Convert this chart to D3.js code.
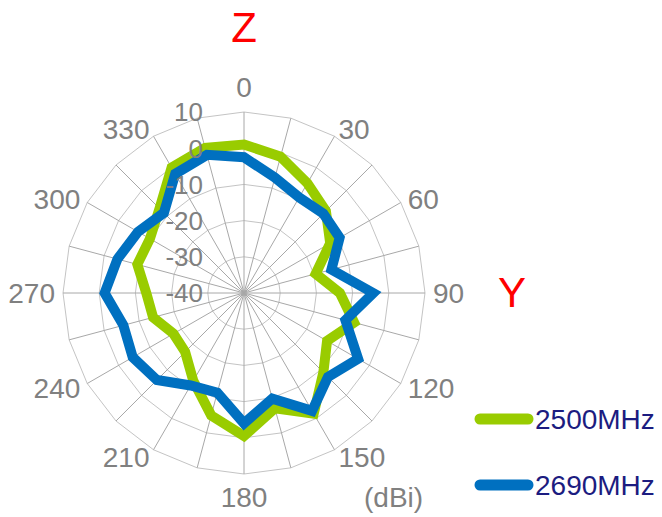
<!DOCTYPE html>
<html>
<head>
<meta charset="utf-8">
<script src="https://cdn.jsdelivr.net/npm/d3@7"></script>
<style>
html,body{margin:0;padding:0;background:#fff;}
svg{display:block;font-family:"Liberation Sans",Arial,sans-serif;}
</style>
</head>
<body>
<svg id="chart" width="662" height="517"></svg>
<script>
// Data
const angles = [0,15,30,45,60,75,90,105,120,135,150,165,180,195,210,225,240,255,270,285,300,315,330,345];
const angleLabels = ["0","30","60","90","120","150","180","210","240","270","300","330"];
const radialTicks = [10,0,-10,-20,-30,-40];
const seriesNames = ["2500MHz","2690MHz"];
const values2500 = [1,-1,-5,-8,-12.5,-19.5,-13.5,-8.5,-13.5,-9,-1.5,-7,-0.5,-5,-12,-17,-17.5,-14,-13,-9.5,-10,-7,0,1.5];
const values2690 = [-2.5,-7,-9.5,-9,-9.5,-15,-4.3,-11,-3.6,-7.2,-2.4,-9.8,-4,-11.5,-10.5,-6,-4.5,-5.5,-1.5,-3.8,-6.2,-8.7,-2,-0.5];
const colors = ["#99cc00","#0070c0"];

const svg = d3.select("#chart");
const cx = 244, cy = 293, R = 181;
const r = d3.scaleLinear().domain([-40,10]).range([0,R]);
const a = d3.scaleLinear().domain([0,360]).range([0,2*Math.PI]);
const g = svg.append("g").attr("transform",`translate(${cx},${cy})`);

// rings (polygonal)
const ringLine = d3.lineRadial().angle(d=>a(d[0])).radius(d=>r(d[1])).curve(d3.curveLinearClosed);
radialTicks.filter(t=>t>-40).forEach(t=>{
  g.append("path").attr("d",ringLine(angles.map(x=>[x,t])))
   .attr("fill","none").attr("stroke","#c4c4c4").attr("stroke-width",1);
});
// spokes
g.selectAll("line.spoke").data(angles).join("line").attr("class","spoke")
  .attr("x1",0).attr("y1",0)
  .attr("x2",d=>R*Math.sin(a(d))).attr("y2",d=>-R*Math.cos(a(d)))
  .attr("stroke","#a8a8a8").attr("stroke-width",1);

// series
const seriesLine = d3.lineRadial().angle((d,i)=>a(angles[i])).radius(d=>r(d)).curve(d3.curveLinearClosed);
[values2500, values2690].forEach((vals,i)=>{
  g.append("path").attr("d",seriesLine(vals)).attr("fill","none")
   .attr("stroke",colors[i]).attr("stroke-width",10).attr("stroke-linejoin","miter").attr("stroke-miterlimit",4);
});

// radial tick labels
g.selectAll("text.tick").data(radialTicks).join("text").attr("class","tick")
  .attr("x",-41).attr("y",d=>-r(d)).attr("dy","0.36em")
  .attr("text-anchor","end").attr("fill","#808080").attr("font-size",26).text(d=>d);

// angle labels
const LR = 189;
g.selectAll("text.ang").data(angleLabels).join("text").attr("class","ang")
  .each(function(d){
    const deg = +d, t = a(deg);
    const x = LR*Math.sin(t), y = -LR*Math.cos(t);
    const s = d3.select(this);
    let anchor = "start", dy = "0.36em", yy = y;
    if (deg===0){anchor="middle"; dy="0"; yy=y-7;}
    else if (deg===180){anchor="middle"; dy="0"; yy=y+25;}
    else if (deg>180){anchor="end";}
    s.attr("x",x).attr("y",yy).attr("dy",dy).attr("text-anchor",anchor);
  })
  .attr("fill","#808080").attr("font-size",28).text(d=>d);

// axis titles
svg.append("text").attr("x",244).attr("y",42).attr("text-anchor","middle")
  .attr("fill","#ff0000").attr("font-size",42).text("Z");
svg.append("text").attr("x",512).attr("y",307).attr("text-anchor","middle")
  .attr("fill","#ff0000").attr("font-size",42).text("Y");
svg.append("text").attr("x",364).attr("y",507)
  .attr("fill","#808080").attr("font-size",28).text("(dBi)");

// legend
const legY = [419, 485];
seriesNames.forEach((n,i)=>{
  svg.append("line").attr("x1",480).attr("x2",528).attr("y1",legY[i]).attr("y2",legY[i])
    .attr("stroke",colors[i]).attr("stroke-width",11).attr("stroke-linecap","round");
  svg.append("text").attr("x",535).attr("y",legY[i]+10)
    .attr("fill","#1c1c80").attr("font-size",28).text(n);
});
</script>
</body>
</html>
